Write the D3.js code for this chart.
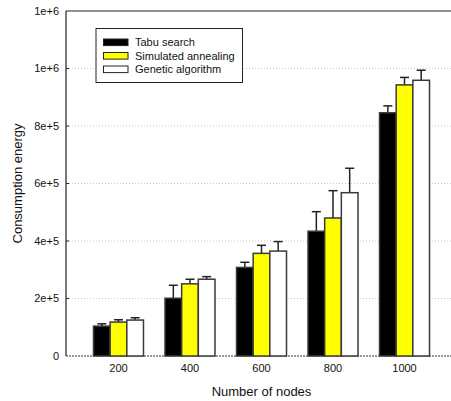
<!DOCTYPE html>
<html><head><meta charset="utf-8">
<script src="https://cdn.jsdelivr.net/npm/d3@7"></script>
<style>body{margin:0;background:#fff;} svg{display:block;font-family:"Liberation Sans",Arial,sans-serif;}</style>
</head><body>
<script>
const categories = ["200", "400", "600", "800", "1000"];
const seriesNames = ["Tabu search", "Simulated annealing", "Genetic algorithm"];
const seriesColors = ["#000000", "#ffff00", "#ffffff"];
const tabu = [104000, 201000, 308000, 434000, 846000];
const tabuErr = [8000, 45000, 18000, 68000, 24000];
const sa = [118000, 251000, 357000, 480000, 943000];
const saErr = [8000, 16000, 28000, 95000, 26000];
const ga = [125000, 267000, 365000, 568000, 959000];
const gaErr = [8000, 9000, 33000, 85000, 35000];
const yTicks = [0, 200000, 400000, 600000, 800000, 1000000, 1200000];
const yTickLabels = ["0", "2e+5", "4e+5", "6e+5", "8e+5", "1e+6", "1e+6"];

const values = [tabu, sa, ga];
const errs = [tabuErr, saErr, gaErr];

const W = 451, H = 401;
const svg = d3.select("body").append("svg").attr("width", W).attr("height", H);

const x = d3.scalePoint().domain(categories).range([66, 457]).padding(0.734);
const inner = d3.scaleBand().domain(seriesNames).range([-25, 25]);
const y = d3.scaleLinear().domain([0, 1200000]).range([356, 11]);

// grid
svg.append("g").selectAll("line").data(yTicks.slice(1, -1)).join("line")
  .attr("x1", 66).attr("x2", W).attr("y1", d => y(d)).attr("y2", d => y(d))
  .attr("stroke", "#c8c8c8").attr("stroke-width", 1).attr("stroke-dasharray", "1,2");
// baseline dotted
svg.append("line").attr("x1", 66).attr("x2", W).attr("y1", y(0)).attr("y2", y(0))
  .attr("stroke", "#333").attr("stroke-width", 1).attr("stroke-dasharray", "2,1");

// bars
const data = [];
categories.forEach((c, i) => seriesNames.forEach((s, j) => data.push({c, s, j, v: values[j][i], e: errs[j][i]})));
const g = svg.append("g");
// error bars
g.selectAll("line.err").data(data).join("line").attr("class", "err")
  .attr("x1", d => x(d.c) + inner(d.s) + inner.bandwidth() / 2)
  .attr("x2", d => x(d.c) + inner(d.s) + inner.bandwidth() / 2)
  .attr("y1", d => y(d.v)).attr("y2", d => y(d.v + d.e))
  .attr("stroke", "#222").attr("stroke-width", 1.5);
g.selectAll("line.cap").data(data).join("line").attr("class", "cap")
  .attr("x1", d => x(d.c) + inner(d.s) + inner.bandwidth() / 2 - 4.5)
  .attr("x2", d => x(d.c) + inner(d.s) + inner.bandwidth() / 2 + 4.5)
  .attr("y1", d => y(d.v + d.e)).attr("y2", d => y(d.v + d.e))
  .attr("stroke", "#222").attr("stroke-width", 1.5);
g.selectAll("rect").data(data).join("rect")
  .attr("x", d => x(d.c) + inner(d.s))
  .attr("width", inner.bandwidth())
  .attr("y", d => y(d.v))
  .attr("height", d => y(0) - y(d.v))
  .attr("fill", d => seriesColors[d.j])
  .attr("stroke", "#3a3a3a").attr("stroke-width", 1.5);

// axes lines
svg.append("line").attr("x1", 66).attr("x2", 66).attr("y1", 11).attr("y2", 356).attr("stroke", "#222").attr("stroke-width", 1.2);
svg.append("line").attr("x1", 66).attr("x2", W).attr("y1", 11).attr("y2", 11).attr("stroke", "#222").attr("stroke-width", 1.2);

// y ticks
svg.append("g").selectAll("line").data(yTicks.slice(1, -1)).join("line")
  .attr("x1", 66).attr("x2", 69).attr("y1", d => y(d)).attr("y2", d => y(d))
  .attr("stroke", "#222").attr("stroke-width", 1);
svg.append("g").selectAll("text").data(yTicks).join("text")
  .attr("x", 59).attr("y", d => y(d)).attr("dy", "0.35em")
  .attr("text-anchor", "end").attr("font-size", 11).attr("fill", "#111")
  .text((d, i) => yTickLabels[i]);

// x tick labels
svg.append("g").selectAll("text").data(categories).join("text")
  .attr("x", d => x(d)).attr("y", 372).attr("text-anchor", "middle")
  .attr("font-size", 11).attr("fill", "#111").text(d => d);

// axis titles
svg.append("text").attr("x", 261.5).attr("y", 396).attr("text-anchor", "middle")
  .attr("font-size", 13).attr("fill", "#111").text("Number of nodes");
svg.append("text").attr("transform", "translate(22,183.5) rotate(-90)").attr("text-anchor", "middle")
  .attr("font-size", 13).attr("fill", "#111").text("Consumption energy");

// legend
const lg = svg.append("g");
lg.append("rect").attr("x", 96).attr("y", 28.5).attr("width", 146.5).attr("height", 54)
  .attr("fill", "#fff").attr("stroke", "#222").attr("stroke-width", 1);
seriesNames.forEach((s, j) => {
  const cy = 42.3 + j * 13.5;
  lg.append("rect").attr("x", 103.5).attr("y", cy - 3.3).attr("width", 24.5).attr("height", 6.6)
    .attr("fill", seriesColors[j]).attr("stroke", "#222").attr("stroke-width", 1);
  lg.append("text").attr("x", 135).attr("y", cy).attr("dy", "0.35em")
    .attr("font-size", 11).attr("fill", "#111").text(s);
});
</script>
</body></html>
